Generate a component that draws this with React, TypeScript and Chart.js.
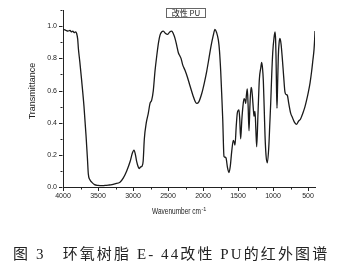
import React, { useEffect, useRef } from 'react';
import { Chart, registerables } from 'chart.js';

Chart.register(...registerables);

const wavenumbers = [
  4000, 3960, 3930, 3900, 3880, 3860, 3840, 3820, 3805, 3790, 3780, 3760, 3733, 3700, 3671, 3650, 3638, 3615, 3590, 3550,
  3500, 3447, 3400, 3350, 3300, 3257, 3186, 3140, 3090, 3040, 3010, 2986, 2965, 2948, 2925, 2910, 2890, 2870, 2855, 2838,
  2810, 2781, 2757, 2733, 2710, 2686, 2661, 2635, 2614, 2590, 2567, 2535, 2504, 2475, 2447, 2425, 2400, 2375, 2352, 2330,
  2314, 2290, 2257, 2220, 2186, 2140, 2110, 2090, 2060, 2019, 1980, 1947, 1915, 1886, 1855, 1829, 1805, 1781, 1765, 1747,
  1730, 1718, 1700, 1685, 1671, 1650, 1629, 1610, 1590, 1567, 1555, 1543, 1525, 1510, 1486, 1475, 1462, 1445, 1430, 1414,
  1400, 1390, 1380, 1367, 1355, 1343, 1330, 1314, 1305, 1295, 1280, 1271, 1264, 1257, 1245, 1233, 1215, 1195, 1175, 1162,
  1150, 1138, 1125, 1114, 1100, 1081, 1060, 1045, 1033, 1018, 1004, 985, 971, 963, 957, 950, 943, 935, 924, 912,
  900, 885, 867, 848, 829, 812, 795, 775, 748, 720, 690, 662, 635, 610, 590, 565, 543, 520, 495, 470,
  448, 430, 414, 405, 400,
];

const transmittance = [
  0.98, 0.975, 0.97, 0.975, 0.965, 0.97, 0.96, 0.965, 0.955, 0.92, 0.86, 0.78, 0.66, 0.5, 0.32, 0.17, 0.08, 0.045, 0.03, 0.015,
  0.01, 0.008, 0.01, 0.012, 0.015, 0.02, 0.03, 0.055, 0.1, 0.16, 0.21, 0.23, 0.2, 0.16, 0.125, 0.115, 0.125, 0.13, 0.16, 0.3,
  0.4, 0.46, 0.52, 0.54, 0.6, 0.72, 0.815, 0.9, 0.945, 0.965, 0.97, 0.955, 0.95, 0.965, 0.97, 0.955, 0.925, 0.88, 0.835, 0.815,
  0.8, 0.76, 0.726, 0.68, 0.63, 0.565, 0.53, 0.52, 0.53, 0.58, 0.65, 0.72, 0.8, 0.875, 0.94, 0.98, 0.96, 0.915, 0.85, 0.72,
  0.55, 0.42, 0.19, 0.185, 0.18, 0.12, 0.09, 0.13, 0.22, 0.29, 0.28, 0.26, 0.38, 0.46, 0.48, 0.42, 0.3, 0.42, 0.5, 0.55,
  0.54, 0.52, 0.57, 0.61, 0.5, 0.35, 0.5, 0.62, 0.61, 0.57, 0.48, 0.44, 0.46, 0.47, 0.36, 0.25, 0.45, 0.67, 0.74, 0.775,
  0.74, 0.66, 0.48, 0.32, 0.2, 0.15, 0.25, 0.4, 0.52, 0.7, 0.835, 0.93, 0.965, 0.92, 0.815, 0.62, 0.49, 0.62, 0.815, 0.9,
  0.925, 0.89, 0.8, 0.69, 0.59, 0.575, 0.57, 0.52, 0.46, 0.43, 0.4, 0.39, 0.41, 0.42, 0.44, 0.47, 0.5, 0.54, 0.59, 0.65,
  0.72, 0.79, 0.855, 0.92, 0.97,
];

const xTickValues = [4000, 3500, 3000, 2500, 2000, 1500, 1000, 500];
const xMinorTickValues = [3750, 3250, 2750, 2250, 1750, 1250, 750];
const yTickValues = [0, 0.2, 0.4, 0.6, 0.8, 1.0];
const yMinorTickValues = [0.1, 0.3, 0.5, 0.7, 0.9, 1.1];

const seriesLabel = '改性 PU';
const xTitle = 'Wavenumber cm';
const xTitleSup = '-1';
const yTitle = 'Transmittance';
const caption = '图 3　环氧树脂 E- 44改性 PU的红外图谱';

const decorPlugin = {
  id: 'decor',
  afterDraw(chart: any) {
    const ctx = chart.ctx;
    const xs = chart.scales.x;
    const ys = chart.scales.y;
    const area = chart.chartArea;
    ctx.save();
    ctx.strokeStyle = '#222';
    ctx.lineWidth = 1;
    ctx.beginPath();
    const yb = Math.round(area.bottom) + 0.5;
    xTickValues.forEach((v) => {
      const px = Math.round(xs.getPixelForValue(v)) + 0.5;
      ctx.moveTo(px, yb);
      ctx.lineTo(px, yb + 3.5);
    });
    xMinorTickValues.forEach((v) => {
      const px = Math.round(xs.getPixelForValue(v)) + 0.5;
      ctx.moveTo(px, yb);
      ctx.lineTo(px, yb + 2);
    });
    const xl = Math.round(area.left) - 0.5;
    yTickValues.forEach((v) => {
      const py = Math.round(ys.getPixelForValue(v)) + 0.5;
      ctx.moveTo(xl, py);
      ctx.lineTo(xl - 3.5, py);
    });
    yMinorTickValues.forEach((v) => {
      const py = Math.round(ys.getPixelForValue(v)) + 0.5;
      ctx.moveTo(xl, py);
      ctx.lineTo(xl - 2, py);
    });
    ctx.stroke();

    // axis titles
    ctx.fillStyle = '#222';
    ctx.font = '9px "Liberation Sans", Arial, sans-serif';
    ctx.textBaseline = 'middle';
    ctx.textAlign = 'center';
    ctx.save();
    ctx.translate(33, 91);
    ctx.rotate(-Math.PI / 2);
    ctx.fillText(yTitle, 0, 0);
    ctx.restore();

    ctx.textAlign = 'left';
    ctx.font = '9px "Liberation Sans", Arial, sans-serif';
    const w = 49;
    ctx.fillText(xTitle, 152, 212, w);
    ctx.font = '5.5px "Liberation Sans", Arial, sans-serif';
    ctx.fillText(xTitleSup, 152 + w + 0.5, 209);

    // legend box
    ctx.strokeStyle = '#666';
    ctx.strokeRect(166.5, 8.5, 39, 9);
    ctx.font = '8px "Noto Sans CJK SC", "Liberation Sans", sans-serif';
    ctx.textAlign = 'center';
    ctx.fillText(seriesLabel, 186, 13.3);
    ctx.restore();
  },
};

export default function App() {
  const canvasRef = useRef<HTMLCanvasElement | null>(null);

  useEffect(() => {
    const canvas = canvasRef.current;
    if (!canvas) return;
    const points = wavenumbers.map((w, i) => ({ x: w, y: transmittance[i] }));
    const chart = new Chart(canvas, {
      type: 'line',
      data: {
        datasets: [
          {
            label: seriesLabel,
            data: points,
            borderColor: '#1a1a1a',
            borderWidth: 1.3,
            pointRadius: 0,
            fill: false,
            tension: 0,
            cubicInterpolationMode: 'monotone',
          },
        ],
      },
      options: {
        responsive: false,
        animation: false,
        devicePixelRatio: 1,
        layout: { padding: { left: 0, right: 29, top: 3, bottom: 0 } },
        plugins: { legend: { display: false }, tooltip: { enabled: false }, title: { display: false } },
        scales: {
          x: {
            type: 'linear',
            reverse: true,
            min: 400,
            max: 4000,
            afterFit: (s: any) => {
              s.height = 86;
            },
            afterBuildTicks: (s: any) => {
              s.ticks = xTickValues.map((v) => ({ value: v }));
            },
            ticks: {
              autoSkip: false,
              maxRotation: 0,
              padding: 5,
              color: '#222',
              font: { size: 7, family: '"Liberation Sans", Arial, sans-serif' },
              callback: (v: any) => String(v),
            },
            grid: { display: false, drawTicks: false },
            border: { display: true, color: '#222', width: 1 },
          },
          y: {
            type: 'linear',
            min: 0,
            max: 1.1,
            afterFit: (s: any) => {
              s.width = 63;
            },
            afterBuildTicks: (s: any) => {
              s.ticks = yTickValues.map((v) => ({ value: v }));
            },
            ticks: {
              autoSkip: false,
              padding: 6,
              color: '#222',
              font: { size: 7, family: '"Liberation Sans", Arial, sans-serif' },
              callback: (v: any) => Number(v).toFixed(1),
            },
            grid: { display: false, drawTicks: false },
            border: { display: true, color: '#222', width: 1 },
          },
        },
      },
      plugins: [decorPlugin],
    });
    return () => chart.destroy();
  }, []);

  return (
    <div style={{ position: 'fixed', left: 0, top: 0, width: 344, height: 273, background: '#fff' }}>
      <canvas ref={canvasRef} width={344} height={273} style={{ display: 'block', width: 344, height: 273 }} />
      <div
        style={{
          position: 'absolute',
          left: 13,
          top: 245,
          whiteSpace: 'nowrap',
          fontFamily: '"Liberation Serif", "Noto Sans CJK SC", serif',
          fontSize: 15,
          letterSpacing: 2.1,
          color: '#222',
          lineHeight: '18px',
        }}
      >
        {caption}
      </div>
    </div>
  );
}
